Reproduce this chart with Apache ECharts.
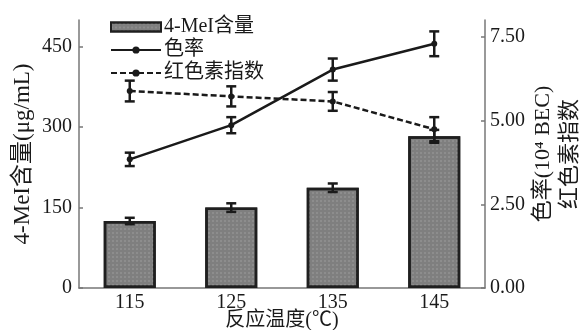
<!DOCTYPE html>
<html>
<head>
<meta charset="utf-8">
<script src="https://cdn.jsdelivr.net/npm/echarts@6/dist/echarts.min.js"></script>
<style>
  html, body { margin: 0; padding: 0; background: #fff; }
  #chart { width: 581px; height: 330px; }
</style>
</head>
<body>
<div id="chart"></div>
<script>
// Reaction temperature (°C)
const temps = ['115', '125', '135', '145'];
// 4-MeI content (μg/mL) with error
const meiContent = [125, 150, 187, 283];
const meiErr = [6, 8, 8, 12];
// Colour rate (10^4 BEC) with error
const colorRate = [3.84, 4.86, 6.52, 7.29];
const colorErr = [0.2, 0.24, 0.33, 0.37];
// Red pigment index with error
const redIndex = [5.88, 5.72, 5.57, 4.74];
const redErr = [0.31, 0.3, 0.28, 0.36];
// Axis tick values
const leftTicks = [0, 150, 300, 450];
const rightTicks = [0, 2.5, 5, 7.5];

const FONT = '"Liberation Serif", "Noto Sans CJK SC", serif';
const axisGray = '#777';

function errorBarSeries(name, values, errs, yAxisIndex) {
  return {
    type: 'custom',
    name: name + '误差',
    yAxisIndex: yAxisIndex,
    z: 10,
    silent: true,
    data: values.map((v, i) => [i, v - errs[i], v + errs[i]]),
    renderItem: function (params, api) {
      const lo = api.coord([api.value(0), api.value(1)]);
      const hi = api.coord([api.value(0), api.value(2)]);
      const cap = 5;
      const style = { stroke: '#1a1a1a', lineWidth: 2.5 };
      return {
        type: 'group',
        children: [
          { type: 'line', shape: { x1: lo[0], y1: lo[1], x2: hi[0], y2: hi[1] }, style: style },
          { type: 'line', shape: { x1: lo[0] - cap, y1: lo[1], x2: lo[0] + cap, y2: lo[1] }, style: style },
          { type: 'line', shape: { x1: hi[0] - cap, y1: hi[1], x2: hi[0] + cap, y2: hi[1] }, style: style }
        ]
      };
    }
  };
}

const chart = echarts.init(document.getElementById('chart'), null, { renderer: 'canvas' });
chart.setOption({
  animation: false,
  backgroundColor: '#fff',
  aria: { enabled: false, decal: { show: true } },
  textStyle: { fontFamily: FONT, color: '#1a1a1a' },
  grid: { left: 79, right: 96, top: 20, bottom: 42, outerBoundsMode: 'none', containLabel: false },
  legend: {
    orient: 'vertical',
    left: 105,
    top: 12,
    itemWidth: 50,
    itemHeight: 9,
    itemGap: 3,
    textStyle: { fontFamily: FONT, fontSize: 20, color: '#1a1a1a', padding: [0, 0, 0, -2] },
    data: [
      { name: '4-MeI含量', icon: 'rect' },
      { name: '色率' },
      { name: '红色素指数' }
    ]
  },
  xAxis: {
    type: 'category',
    data: temps,
    name: '反应温度(℃)',
    nameLocation: 'middle',
    nameGap: 23,
    nameMoveOverlap: false,
    nameTextStyle: { fontFamily: FONT, fontSize: 20, color: '#1a1a1a' },
    axisLine: { lineStyle: { color: axisGray, width: 1.5 } },
    axisTick: { inside: true, length: 5, lineStyle: { color: axisGray, width: 1.5 } },
    axisLabel: { fontFamily: FONT, fontSize: 20, color: '#1a1a1a', margin: 5 }
  },
  yAxis: [
    {
      type: 'value',
      min: 0,
      max: 500,
      interval: 50,
      name: '4-MeI含量(μg/mL)',
      nameLocation: 'middle',
      nameRotate: 90,
      nameGap: 45,
      nameMoveOverlap: false,
      nameTextStyle: { fontFamily: FONT, fontSize: 23, color: '#1a1a1a' },
      splitLine: { show: false },
      axisLine: { show: true, lineStyle: { color: axisGray, width: 1.5 } },
      axisTick: { show: true, inside: true, length: 4, customValues: leftTicks, lineStyle: { color: axisGray, width: 1.5 } },
      axisLabel: { fontFamily: FONT, fontSize: 20, color: '#1a1a1a', margin: 7, customValues: leftTicks }
    },
    {
      type: 'value',
      min: 0,
      max: 8,
      interval: 0.5,
      position: 'right',
      name: '色率(10⁴ BEC)\n红色素指数',
      nameLocation: 'middle',
      nameRotate: 90,
      nameGap: 45,
      nameMoveOverlap: false,
      nameTextStyle: { fontFamily: FONT, fontSize: 22, color: '#1a1a1a', lineHeight: 27, align: 'center' },
      splitLine: { show: false },
      axisLine: { show: true, lineStyle: { color: axisGray, width: 1.5 } },
      axisTick: { show: true, inside: true, length: 4, customValues: rightTicks, lineStyle: { color: axisGray, width: 1.5 } },
      axisLabel: {
        fontFamily: FONT, fontSize: 20, color: '#1a1a1a', margin: 5,
        customValues: rightTicks,
        formatter: v => v.toFixed(2)
      }
    }
  ],
  series: [
    {
      type: 'bar',
      name: '4-MeI含量',
      data: meiContent,
      yAxisIndex: 0,
      barWidth: 52,
      itemStyle: {
        color: '#7f7f7f',
        borderColor: '#1f1f1f',
        borderWidth: 2.5,
        decal: {
          symbol: 'circle',
          symbolSize: 0.7,
          dashArrayX: [[2, 2]],
          dashArrayY: [2, 2],
          color: 'rgba(200,200,200,0.55)'
        }
      }
    },
    {
      type: 'line',
      name: '色率',
      data: colorRate,
      yAxisIndex: 1,
      symbol: 'circle',
      symbolSize: 6,
      z: 5,
      lineStyle: { color: '#1a1a1a', width: 2.5 },
      itemStyle: { color: '#1a1a1a' }
    },
    {
      type: 'line',
      name: '红色素指数',
      data: redIndex,
      yAxisIndex: 1,
      symbol: 'circle',
      symbolSize: 6,
      z: 5,
      lineStyle: { color: '#1a1a1a', width: 2.5, type: [6, 3] },
      itemStyle: { color: '#1a1a1a' }
    },
    errorBarSeries('4-MeI含量', meiContent, meiErr, 0),
    errorBarSeries('色率', colorRate, colorErr, 1),
    errorBarSeries('红色素指数', redIndex, redErr, 1)
  ]
});
</script>
</body>
</html>
